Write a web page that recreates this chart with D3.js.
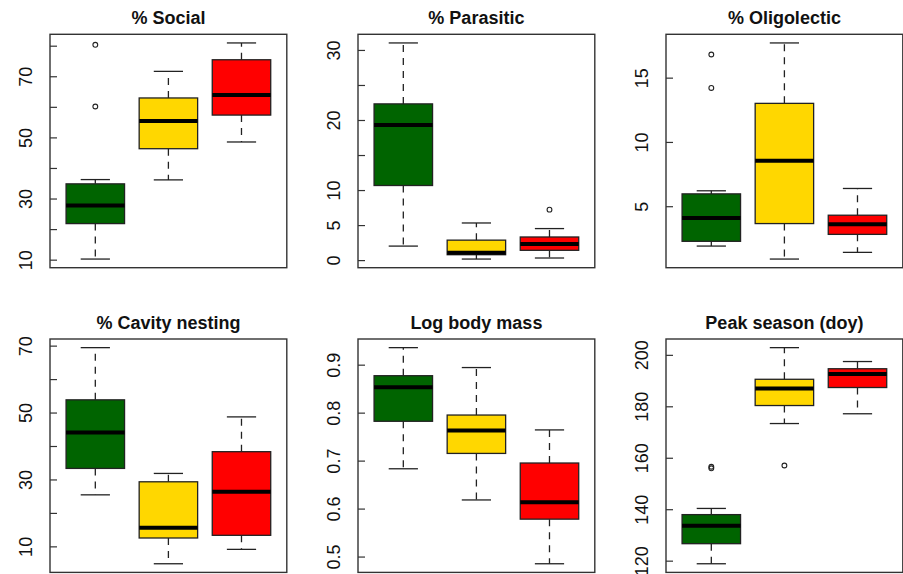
<!DOCTYPE html>
<html><head><meta charset="utf-8">
<script src="https://cdn.jsdelivr.net/npm/d3@7"></script>
<style>body{margin:0;background:#fff}svg{display:block}</style>
</head><body><svg id="c" width="903" height="574"></svg>
<script>
// ---- data ----
const groups = ["Group 1", "Group 2", "Group 3"];
const groupColors = ["#006400", "#FFD700", "#FF0000"];
const titles = ["% Social", "% Parasitic", "% Oligolectic", "% Cavity nesting", "Log body mass", "Peak season (doy)"];

// [lower whisker, Q1, median, Q3, upper whisker] for each group
const socialStats    = [[10.2, 21.8, 27.7, 34.8, 36.2], [36.1, 46.3, 55.4, 62.9, 71.6], [48.5, 57.3, 63.9, 75.4, 80.9]];
const socialOut      = [[60.1, 80.3], [], []];
const parasiticStats = [[2.0, 10.65, 19.3, 22.3, 31.0], [0.15, 0.77, 1.05, 2.85, 5.3], [0.3, 1.4, 2.3, 3.3, 4.5]];
const parasiticOut   = [[], [], [7.2]];
const oligoStats     = [[1.9, 2.27, 4.09, 5.96, 6.2], [0.89, 3.65, 8.54, 13.0, 17.7], [1.41, 2.81, 3.59, 4.30, 6.38]];
const oligoOut       = [[14.2, 16.8], [], []];
const cavityStats    = [[25.4, 33.3, 44.0, 53.8, 69.4], [4.8, 12.5, 15.6, 29.3, 31.8], [9.1, 13.3, 26.3, 38.3, 48.7]];
const cavityOut      = [[], [], []];
const massStats      = [[0.683, 0.782, 0.853, 0.877, 0.9355], [0.618, 0.715, 0.763, 0.795, 0.894], [0.485, 0.578, 0.613, 0.695, 0.764]];
const massOut        = [[], [], []];
const peakStats      = [[118.8, 126.6, 133.6, 137.9, 140.3], [173.3, 180.3, 186.9, 190.5, 202.8], [177.1, 187.3, 192.6, 194.6, 197.4]];
const peakOut        = [[155.9, 156.5], [157.0], []];

// tick positions and which of them carry labels
const socialTicks = [10, 20, 30, 40, 50, 60, 70, 80],   socialLabels = [10, 30, 50, 70];
const parasiticTicks = [0, 5, 10, 15, 20, 25, 30],      parasiticLabels = [0, 5, 10, 20, 30];
const oligoTicks = [5, 10, 15],                         oligoLabels = [5, 10, 15];
const cavityTicks = [10, 20, 30, 40, 50, 60, 70],       cavityLabels = [10, 30, 50, 70];
const massTicks = [0.5, 0.6, 0.7, 0.8, 0.9],            massLabels = [0.5, 0.6, 0.7, 0.8, 0.9];
const peakTicks = [120, 140, 160, 180, 200],            peakLabels = [120, 140, 160, 180, 200];

const panels = [
  {stats: socialStats, out: socialOut, ticks: socialTicks, labels: socialLabels, fmt: d3.format("d")},
  {stats: parasiticStats, out: parasiticOut, ticks: parasiticTicks, labels: parasiticLabels, fmt: d3.format("d")},
  {stats: oligoStats, out: oligoOut, ticks: oligoTicks, labels: oligoLabels, fmt: d3.format("d")},
  {stats: cavityStats, out: cavityOut, ticks: cavityTicks, labels: cavityLabels, fmt: d3.format("d")},
  {stats: massStats, out: massOut, ticks: massTicks, labels: massLabels, fmt: d3.format(".1f")},
  {stats: peakStats, out: peakOut, ticks: peakTicks, labels: peakLabels, fmt: d3.format("d")}
];

// ---- layout ----
const frameLefts = [50, 358, 666];
const frameTops = [34.3, 339];
const frameW = 236.8, frameH = 233.4;
const font = "'Liberation Sans', Arial, Helvetica, sans-serif";

const svg = d3.select("#c");
svg.append("rect").attr("width", 903).attr("height", 574).attr("fill", "#fff");

panels.forEach((p, i) => {
  const left = frameLefts[i % 3], top = frameTops[Math.floor(i / 3)];
  const all = p.stats.flat().concat(p.out.flat());
  const lo = d3.min(all), hi = d3.max(all), r = hi - lo;
  const y = d3.scaleLinear().domain([lo - 0.04 * r, hi + 0.04 * r]).range([top + frameH, top]);
  const x = d3.scaleLinear().domain([0.38, 3.62]).range([left, left + frameW]);
  const g = svg.append("g");

  // title
  g.append("text")
    .attr("x", left + frameW / 2).attr("y", top - 10.5)
    .attr("text-anchor", "middle")
    .attr("font-family", font).attr("font-weight", "bold").attr("font-size", 18)
    .attr("fill", "#111")
    .text(titles[i]);

  // axis
  const ax = g.append("g").attr("transform", `translate(${left},0)`)
    .call(d3.axisLeft(y).tickValues(p.ticks).tickSize(-7)
      .tickFormat(d => p.labels.includes(d) ? p.fmt(d) : ""));
  ax.select(".domain").remove();
  ax.selectAll(".tick line").attr("stroke", "#333").attr("stroke-width", 1.2);
  ax.selectAll(".tick text")
    .attr("x", null).attr("dy", null)
    .attr("transform", "translate(-18,0) rotate(-90)")
    .attr("text-anchor", "middle")
    .attr("font-family", font).attr("font-size", 18).attr("fill", "#111");

  const halfBox = 0.4, halfStaple = 0.2;
  p.stats.forEach((s, j) => {
    const c = j + 1;
    const [wl, q1, med, q3, wh] = s;
    const bg = g.append("g");
    // whiskers
    bg.append("line").attr("x1", x(c)).attr("x2", x(c)).attr("y1", y(q3)).attr("y2", y(wh))
      .attr("stroke", "#222").attr("stroke-width", 1.3).attr("stroke-dasharray", "7,6");
    bg.append("line").attr("x1", x(c)).attr("x2", x(c)).attr("y1", y(q1)).attr("y2", y(wl))
      .attr("stroke", "#222").attr("stroke-width", 1.3).attr("stroke-dasharray", "7,6");
    // staples
    [wl, wh].forEach(v => bg.append("line")
      .attr("x1", x(c - halfStaple)).attr("x2", x(c + halfStaple)).attr("y1", y(v)).attr("y2", y(v))
      .attr("stroke", "#222").attr("stroke-width", 1.3));
    // box
    bg.append("rect")
      .attr("x", x(c - halfBox)).attr("width", x(c + halfBox) - x(c - halfBox))
      .attr("y", y(q3)).attr("height", y(q1) - y(q3))
      .attr("fill", groupColors[j]).attr("stroke", "#222").attr("stroke-width", 1.3);
    // median
    bg.append("line").attr("x1", x(c - halfBox)).attr("x2", x(c + halfBox)).attr("y1", y(med)).attr("y2", y(med))
      .attr("stroke", "#000").attr("stroke-width", 4);
    // outliers
    p.out[j].forEach(v => bg.append("circle")
      .attr("cx", x(c)).attr("cy", y(v)).attr("r", 2.4)
      .attr("fill", "none").attr("stroke", "#222").attr("stroke-width", 1.1));
  });

  // frame
  g.append("rect").attr("x", left).attr("y", top).attr("width", frameW).attr("height", frameH)
    .attr("fill", "none").attr("stroke", "#333").attr("stroke-width", 1.4);
});
</script></body></html>
